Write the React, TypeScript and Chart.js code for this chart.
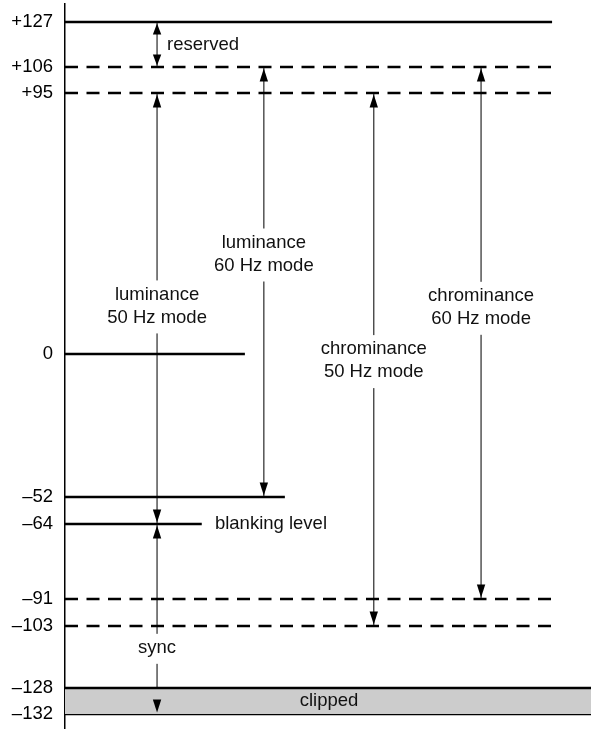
import React, { useEffect, useRef } from 'react';
import { Chart, registerables, LinearScale } from 'chart.js';

// ---------------- data ----------------
const levelValues = [127, 106, 95, 0, -52, -64, -91, -103, -128, -132];
const levelLabels = ['+127', '+106', '+95', '0', '–52', '–64', '–91', '–103', '–128', '–132'];
const levelDashed = [false, true, true, false, false, false, true, true, false, false];

const rangeTop = [127, 95, 106, 95, 106, -64];
const rangeBottom = [106, -64, -52, -103, -91, -132];
const rangeLabels = [
  ['reserved'],
  ['luminance', '50 Hz mode'],
  ['luminance', '60 Hz mode'],
  ['chrominance', '50 Hz mode'],
  ['chrominance', '60 Hz mode'],
  ['sync'],
];

const markerValue = -64;
const markerLabel = 'blanking level';
const bandTop = -128;
const bandBottom = -132;
const bandLabel = 'clipped';

// ---------------- layout (schematic) ----------------
const levelEndX = [92.6, 92.6, 92.6, 34.2, 41.8, 26.0, 92.6, 92.6, 100, 100];
const rangeX = [17.5, 17.5, 37.8, 58.7, 79.1, 17.5];
const rangeLabelX = [19.4, 17.5, 37.8, 58.7, 79.1, 17.5];
const rangeLabelY = [116.5, 17.5, 36.4, -2.4, 17, -111.8];
const rangeLabelAlign = ['left', 'center', 'center', 'center', 'center', 'center'];
const markerLabelX = 28.5;
const bandLabelX = 50.2;
const bandLabelY = -130;

// schematic (non-linear) axis spacing: value stops and their fraction of axis height
const axisStops = [135, 127, 106, 95, 0, -52, -64, -91, -103, -128, -132, -137.5];
const axisStopFrac = [0, 0.02483, 0.0869, 0.12276, 0.48276, 0.68, 0.71724, 0.82069, 0.85793, 0.94345, 0.97931, 1];

function valueToFrac(v: number): number {
  const n = axisStops.length;
  let i = 0;
  if (v >= axisStops[0]) i = 0;
  else if (v <= axisStops[n - 1]) i = n - 2;
  else {
    for (let k = 0; k < n - 1; k++) {
      if (v <= axisStops[k] && v >= axisStops[k + 1]) { i = k; break; }
    }
  }
  const t = (axisStops[i] - v) / (axisStops[i] - axisStops[i + 1]);
  return axisStopFrac[i] + t * (axisStopFrac[i + 1] - axisStopFrac[i]);
}
function fracToValue(f: number): number {
  const n = axisStopFrac.length;
  let i = n - 2;
  for (let k = 0; k < n - 1; k++) {
    if (f >= axisStopFrac[k] && f <= axisStopFrac[k + 1]) { i = k; break; }
  }
  const t = (f - axisStopFrac[i]) / (axisStopFrac[i + 1] - axisStopFrac[i]);
  return axisStops[i] + t * (axisStops[i + 1] - axisStops[i]);
}

class SchematicScale extends LinearScale {
  static id = 'schematic';
  static defaults = LinearScale.defaults;
  getPixelForValue(value: any) {
    if (value === null || value === undefined || isNaN(value)) return NaN;
    return this.top + valueToFrac(+value) * (this.bottom - this.top);
  }
  getValueForPixel(pixel: number) {
    return fracToValue((pixel - this.top) / (this.bottom - this.top));
  }
}

Chart.register(...registerables, SchematicScale as any);

const FONT_FAMILY = '"Liberation Sans", Arial, Helvetica, sans-serif';
const FONT_SIZE = 18.5;
const TEXT_COLOR = '#111111';
const SHAFT_COLOR = '#3a3a3a';

const overlayPlugin = {
  id: 'overlay',
  afterDatasetsDraw(chart: any) {
    const { ctx } = chart;
    const x = chart.scales.x;
    const y = chart.scales.y;
    ctx.save();
    ctx.font = `${FONT_SIZE}px ${FONT_FAMILY}`;
    ctx.textBaseline = 'middle';
    const lineH = 23;

    // range labels (with white gap behind them)
    rangeLabels.forEach((lines, i) => {
      const cx = x.getPixelForValue(rangeLabelX[i]);
      const cy = y.getPixelForValue(rangeLabelY[i]);
      const n = lines.length;
      const y0 = cy - ((n - 1) * lineH) / 2;
      const align = rangeLabelAlign[i];
      if (align === 'center') {
        const w = Math.max(...lines.map((l) => ctx.measureText(l).width));
        ctx.fillStyle = '#ffffff';
        ctx.fillRect(cx - w / 2 - 3, y0 - 14, w + 6, (n - 1) * lineH + 30);
      }
      ctx.fillStyle = TEXT_COLOR;
      ctx.textAlign = align;
      lines.forEach((l, k) => ctx.fillText(l, cx, y0 + k * lineH));
    });

    // marker label
    ctx.textAlign = 'left';
    ctx.fillStyle = TEXT_COLOR;
    ctx.fillText(markerLabel, x.getPixelForValue(markerLabelX), y.getPixelForValue(markerValue));

    // band label
    ctx.textAlign = 'center';
    ctx.fillText(bandLabel, x.getPixelForValue(bandLabelX), y.getPixelForValue(bandLabelY));

    // arrowheads
    ctx.fillStyle = '#000000';
    rangeTop.forEach((top, i) => {
      const px = x.getPixelForValue(rangeX[i]);
      const t = y.getPixelForValue(top) + 1.5;
      const b = y.getPixelForValue(rangeBottom[i]) - 1.5;
      const len = b - t < 60 ? 11 : 13;
      const hw = 4.2;
      ctx.beginPath();
      ctx.moveTo(px, t);
      ctx.lineTo(px - hw, t + len);
      ctx.lineTo(px + hw, t + len);
      ctx.closePath();
      ctx.fill();
      ctx.beginPath();
      ctx.moveTo(px, b);
      ctx.lineTo(px - hw, b - len);
      ctx.lineTo(px + hw, b - len);
      ctx.closePath();
      ctx.fill();
    });
    ctx.restore();
  },
};

export default function App() {
  const ref = useRef<HTMLCanvasElement | null>(null);

  useEffect(() => {
    if (!ref.current) return;

    const levelSets = levelValues.map((v, i) => ({
      label: levelLabels[i],
      data: [
        { x: 0, y: v },
        { x: levelEndX[i], y: v },
      ],
      showLine: true,
      borderColor: '#000000',
      borderWidth: 2.6,
      borderDash: levelDashed[i] ? [13, 8.5] : [],
      borderCapStyle: 'butt',
      pointRadius: 0,
      fill: v === bandTop ? { value: bandBottom } : false,
      backgroundColor: '#cccccc',
    }));

    const shaftSets = rangeTop.map((top, i) => ({
      label: rangeLabels[i].join(' '),
      data: [
        { x: rangeX[i], y: top },
        { x: rangeX[i], y: rangeBottom[i] },
      ],
      showLine: true,
      borderColor: SHAFT_COLOR,
      borderWidth: 1.3,
      pointRadius: 0,
      fill: false,
    }));

    const chart = new Chart(ref.current, {
      type: 'scatter',
      data: { datasets: [...levelSets, ...shaftSets] as any },
      options: {
        animation: false,
        responsive: false,
        events: [],
        layout: { padding: { top: 4, left: 0, right: 0, bottom: 0 } },
        plugins: { legend: { display: false }, tooltip: { enabled: false } },
        scales: {
          x: { type: 'linear', min: 0, max: 100, display: false },
          y: {
            type: 'schematic' as any,
            min: -137.5,
            max: 135,
            bounds: 'data',
            grid: { display: false, drawTicks: false },
            border: { display: true, color: '#000000', width: 1.5 },
            ticks: {
              autoSkip: false,
              padding: 12,
              color: '#000000',
              font: { family: FONT_FAMILY, size: FONT_SIZE },
              callback: (v: any) => {
                const idx = levelValues.indexOf(+v);
                return idx >= 0 ? levelLabels[idx] : '';
              },
            },
            afterBuildTicks: (s: any) => {
              s.ticks = levelValues.map((v) => ({ value: v }));
            },
            afterFit: (s: any) => {
              s.width = 65;
              s.paddingTop = 0;
              s.paddingBottom = 0;
            },
          } as any,
        },
      },
      plugins: [overlayPlugin],
    } as any);

    return () => chart.destroy();
  }, []);

  return (
    <canvas
      ref={ref}
      width={591}
      height={729}
      style={{ position: 'fixed', left: 0, top: 0, width: 591, height: 729, background: '#ffffff' }}
    />
  );
}
